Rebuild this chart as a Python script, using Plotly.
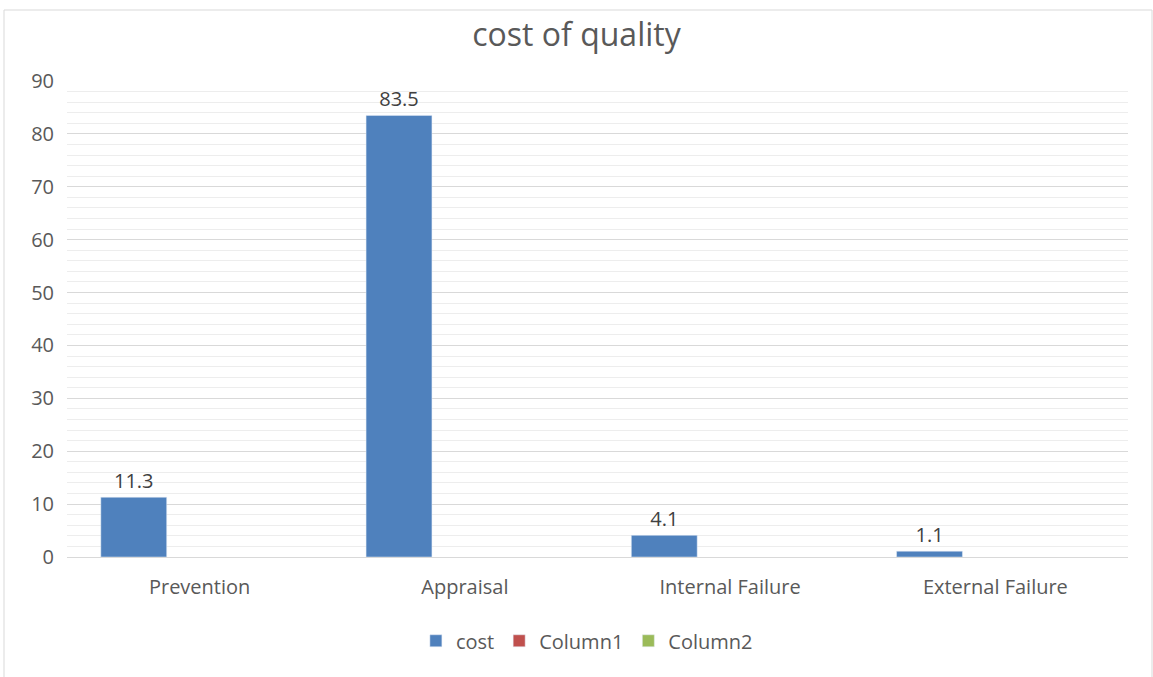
import plotly.graph_objects as go

categories = ["Prevention", "Appraisal", "Internal Failure", "External Failure"]
cost = [11.3, 83.5, 4.1, 1.1]
column1 = [None, None, None, None]
column2 = [None, None, None, None]
y_ticks = [0, 10, 20, 30, 40, 50, 60, 70, 80, 90]

FONT = "Open Sans"
FS = 20
fig = go.Figure()
fig.add_trace(go.Bar(name="cost", x=categories, y=cost, marker_color="#4F81BD",
                     text=[f"{v:.1f}" for v in cost], textposition="outside",
                     textfont=dict(family=FONT, size=FS, color="#404040"),
                     cliponaxis=False))
fig.add_trace(go.Bar(name="Column1", x=categories, y=column1, marker_color="#C0504D"))
fig.add_trace(go.Bar(name="Column2", x=categories, y=column2, marker_color="#9BBB59"))

fig.update_layout(
    width=1153, height=677,
    margin=dict(l=67, r=25, t=81, b=120),
    paper_bgcolor="white", plot_bgcolor="white",
    barmode="group", bargap=0.255, bargroupgap=0,
    title=dict(text="cost of quality", x=0.5, xanchor="center", y=0.948, yanchor="middle",
               font=dict(family=FONT, size=32, color="#595959")),
    font=dict(family=FONT, size=FS, color="#595959"),
    legend=dict(orientation="h", x=0.49, xanchor="center", y=-0.176, yanchor="middle",
                font=dict(family=FONT, size=FS, color="#595959"), itemwidth=30,
                traceorder="normal"),
    showlegend=True,
)
fig.update_yaxes(range=[0, 90], tickvals=y_ticks, showgrid=True, gridcolor="#D9D9D9", gridwidth=1,
                 zeroline=False, showline=False, ticklabelstandoff=12,
                 tickfont=dict(family=FONT, size=FS, color="#595959"),
                 minor=dict(dtick=2, showgrid=True, gridcolor="#EDEDED", gridwidth=1))
fig.update_xaxes(showline=True, linecolor="#D9D9D9", linewidth=1, showgrid=False,
                 ticks="", ticklabelstandoff=12,
                 tickfont=dict(family=FONT, size=FS, color="#595959"))

# chart border
fig.add_shape(type="rect", xref="paper", yref="paper",
              x0=(4 - 67) / 1061, x1=(1152 - 67) / 1061,
              y0=(557 - 690) / 476, y1=(557 - 10) / 476,
              line=dict(color="#D9D9D9", width=1), fillcolor="rgba(0,0,0,0)", layer="below")

fig.write_html("out.html")
